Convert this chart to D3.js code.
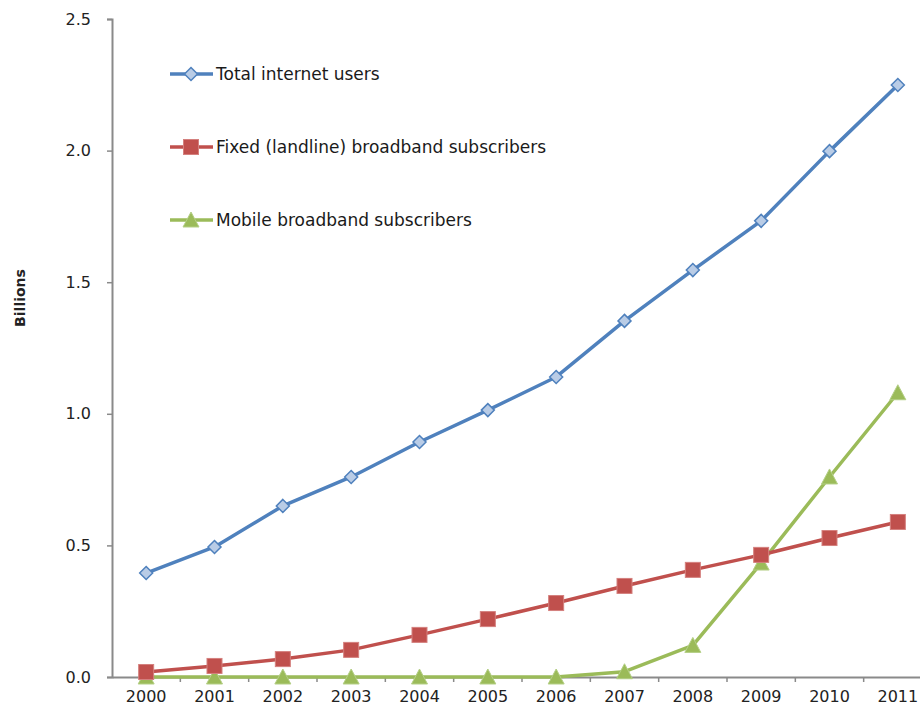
<!DOCTYPE html>
<html>
<head>
<meta charset="utf-8">
<script src="https://cdn.jsdelivr.net/npm/d3@7"></script>
<style>
  body { margin: 0; background: #fff; }
  svg { display: block; }
</style>
</head>
<body>
<div id="chart"></div>
<script>
// years on the category axis
const years = ["2000", "2001", "2002", "2003", "2004", "2005",
               "2006", "2007", "2008", "2009", "2010", "2011"];

// billions
const totalUsers = [0.395, 0.494, 0.65, 0.76, 0.893, 1.014, 1.14, 1.353, 1.546, 1.733, 1.998, 2.249];
const fixedBroadband = [0.019, 0.042, 0.068, 0.103, 0.16, 0.22, 0.281, 0.346, 0.407, 0.464, 0.528, 0.589];
const mobileBroadband = [0, 0, 0, 0, 0, 0, 0, 0.02, 0.12, 0.433, 0.76, 1.08];

const yTicks = [0, 0.5, 1.0, 1.5, 2.0, 2.5];

const seriesNames = ["Total internet users",
                     "Fixed (landline) broadband subscribers",
                     "Mobile broadband subscribers"];

const width = 920;
const height = 722;
const font = "'DejaVu Sans', sans-serif";

const series = [
  { name: seriesNames[0], values: totalUsers, color: "#4F81BD", marker: "diamond" },
  { name: seriesNames[1], values: fixedBroadband, color: "#C0504D", marker: "square" },
  { name: seriesNames[2], values: mobileBroadband, color: "#9BBB59", marker: "triangle" },
];

const svg = d3.select("#chart")
  .append("svg")
  .attr("width", width)
  .attr("height", height)
  .attr("viewBox", [0, 0, width, height]);

// category axis runs on past the right edge, like the cropped original
const x = d3.scaleBand()
  .domain(years)
  .range([112, 932]);

const y = d3.scaleLinear()
  .domain([0, 2.5])
  .range([677, 19]);

const axisColor = "#8a8a8a";

// y axis
const yAxis = svg.append("g")
  .attr("transform", `translate(${x.range()[0]},0)`)
  .call(d3.axisLeft(y).tickValues(yTicks).tickFormat(d3.format(".1f")).tickSize(5).tickPadding(16));
yAxis.select(".domain").attr("stroke", axisColor).attr("stroke-width", 2);
yAxis.selectAll(".tick line").attr("stroke", axisColor).attr("stroke-width", 1.5);
yAxis.selectAll("text")
  .attr("font-family", font)
  .attr("font-size", 16)
  .attr("fill", "#222");

// x axis, ticks sit between categories
const xAxis = svg.append("g")
  .attr("transform", `translate(0,${y(0)})`)
  .call(d3.axisBottom(x).tickSize(0).tickPadding(14));
xAxis.select(".domain").attr("stroke", axisColor).attr("stroke-width", 2);
xAxis.selectAll("text")
  .attr("font-family", font)
  .attr("font-size", 16)
  .attr("fill", "#222");
xAxis.selectAll(".between")
  .data(years)
  .join("line")
  .attr("class", "between")
  .attr("x1", (d) => x(d) + x.bandwidth())
  .attr("x2", (d) => x(d) + x.bandwidth())
  .attr("y1", 0)
  .attr("y2", 5)
  .attr("stroke", axisColor)
  .attr("stroke-width", 1.5);

// axis title
svg.append("text")
  .attr("transform", "translate(25,298) rotate(-90)")
  .attr("text-anchor", "middle")
  .attr("font-family", font)
  .attr("font-size", 14)
  .attr("font-weight", "bold")
  .attr("fill", "#222")
  .text("Billions");

function drawMarker(g, kind, color) {
  if (kind === "diamond") {
    g.append("path")
      .attr("d", "M0,-6.5L6.5,0L0,6.5L-6.5,0Z")
      .attr("fill", "#b9cce6")
      .attr("stroke", color)
      .attr("stroke-width", 1.5);
  } else if (kind === "square") {
    g.append("rect")
      .attr("x", -7.5).attr("y", -7.5)
      .attr("width", 15).attr("height", 15)
      .attr("fill", color)
      .attr("stroke", "#d4807e")
      .attr("stroke-width", 1);
  } else {
    g.append("path")
      .attr("d", "M0,-8L8,7L-8,7Z")
      .attr("fill", color)
      .attr("stroke", "#b4cf86")
      .attr("stroke-width", 1);
  }
}

const line = d3.line()
  .x((d, i) => x(years[i]) + x.bandwidth() / 2)
  .y((d) => y(d));

// draw in reverse so blue sits on top
for (const s of series.slice().reverse()) {
  svg.append("path")
    .datum(s.values)
    .attr("d", line)
    .attr("fill", "none")
    .attr("stroke", s.color)
    .attr("stroke-width", 3.5)
    .attr("stroke-linejoin", "round");

  s.values.forEach((v, i) => {
    const g = svg.append("g")
      .attr("transform", `translate(${x(years[i]) + x.bandwidth() / 2},${y(v)})`);
    drawMarker(g, s.marker, s.color);
  });
}

// legend
const legendY = [74, 147, 220];
series.forEach((s, i) => {
  const g = svg.append("g").attr("transform", `translate(170,${legendY[i]})`);
  g.append("line")
    .attr("x1", 0).attr("x2", 43)
    .attr("stroke", s.color)
    .attr("stroke-width", 3.5);
  const m = g.append("g").attr("transform", "translate(21,0)");
  drawMarker(m, s.marker, s.color);
  g.append("text")
    .attr("x", 46)
    .attr("dy", "0.35em")
    .attr("font-family", font)
    .attr("font-size", 17)
    .attr("fill", "#1a1a1a")
    .text(s.name);
});
</script>
</body>
</html>
